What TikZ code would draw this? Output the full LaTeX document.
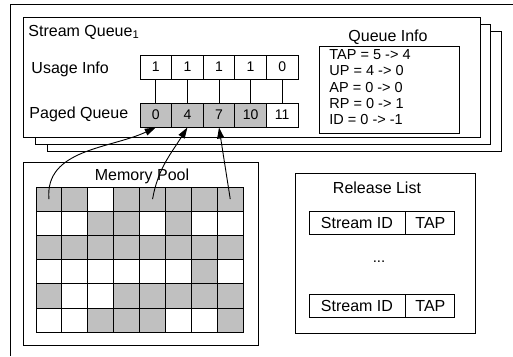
\documentclass[tikz,border=0pt]{standalone}
\usepackage{fontspec}
\setmainfont{Liberation Sans}
\usetikzlibrary{arrows.meta,positioning}

\definecolor{cellgray}{RGB}{192,192,192}
\colorlet{pool0}{white}
\colorlet{pool1}{cellgray}

\newcommand*{\cellw}{31.6}
\newcommand*{\poolw}{25.9}
\newcommand*{\poolh}{24.2}

\begin{document}
\begin{tikzpicture}
[
	x=1pt,y=-1pt,
	line width=0.9pt,
	frame/.style={draw,fill=white},
	cell/.style={draw,minimum width=\cellw pt,minimum height=24pt,inner sep=0pt,font=\fontsize{14}{14}\selectfont},
	pcell/.style={draw,minimum width=\poolw pt,minimum height=\poolh pt,inner sep=0pt},
	rcell/.style={draw,minimum height=23pt,inner sep=0pt,font=\fontsize{16}{16}\selectfont},
	title/.style={inner sep=0pt,font=\fontsize{16}{16}\selectfont},
	ptr/.style={-{Triangle[length=11pt,width=7pt]}}
]
	\useasboundingbox (0,0) rectangle (513,356);

	% outer frame
	\draw (10,356) -- (10,4) -- (513,4);

	% stacked stream queues
	\foreach \d in {24,12,0} {
		\draw[frame] (23+\d,17+0.6*\d) rectangle (480+0.9*\d,137+0.6*\d);
	}
	\node[title,anchor=west] (sq) at (28,32) {Stream Queue\textsubscript{1}};
	\node[title,anchor=west] (ui) at (31,69) {Usage Info};
	\node[title,anchor=west] (pq) at (29,114) {Paged Queue};

	% usage info and paged queue
	\foreach \v [count=\i] in {1,1,1,1,0} {
		\node[cell] (u\i) at ({155.8+\cellw*(\i-1)},67) {\v};
	}
	\foreach \v/\s [count=\i] in {0/1,4/1,7/1,10/1,11/0} {
		\node[cell,fill=pool\s] (p\i) at ({155.8+\cellw*(\i-1)},115) {\v};
		\draw (u\i.south) -- (p\i.north);
	}

	% queue info
	\node[title] (qi) at (388,37) {Queue Info};
	\draw (319,46) rectangle (459,133);
	\node[anchor=north west,align=left,inner sep=0pt,font=\fontsize{14.5}{16.3}\selectfont] (qt) at (329,49)
		{TAP = 5 -> 4\\UP = 4 -> 0\\AP = 0 -> 0\\RP = 0 -> 1\\ID = 0 -> -1};

	% memory pool
	\draw (23,162) rectangle (258,345);
	\node[title] (mp) at (142,176) {Memory Pool};
	\foreach \r/\row in {1/{1,1,0,1,1,1,1,1},2/{0,0,1,1,0,1,0,0},3/{1,1,1,1,1,1,1,1},
		4/{0,0,0,0,0,0,1,0},5/{1,0,0,1,1,1,1,1},6/{0,0,1,1,1,0,0,1}} {
		\foreach \s [count=\c] in \row {
			\node[pcell,fill=pool\s] (m-\r-\c) at ({36+\poolw*(\c-0.5)},{187+\poolh*(\r-0.5)}) {};
		}
	}

	% pointers into the pool
	\draw[ptr] (m-1-1.center) to[out=95,in=205] (p1.south);
	\draw[ptr] (m-1-5.center) to[out=80,in=238] (p2.south);
	\draw[ptr] (m-1-8.center) -- (p3.south);

	% release list
	\draw (295,173) rectangle (475,333);
	\node[title] (rl) at (377,188) {Release List};
	\node[rcell,minimum width=96pt] (sid1) at (357,222.5) {Stream ID};
	\node[rcell,minimum width=49pt,right=0pt of sid1] (tap1) {TAP};
	\node[inner sep=0pt,font=\fontsize{15}{15}\selectfont] (dots) at (379,262) {...};
	\node[rcell,minimum width=96pt] (sid2) at (357,305.5) {Stream ID};
	\node[rcell,minimum width=49pt,right=0pt of sid2] (tap2) {TAP};

\end{tikzpicture}
\end{document}
